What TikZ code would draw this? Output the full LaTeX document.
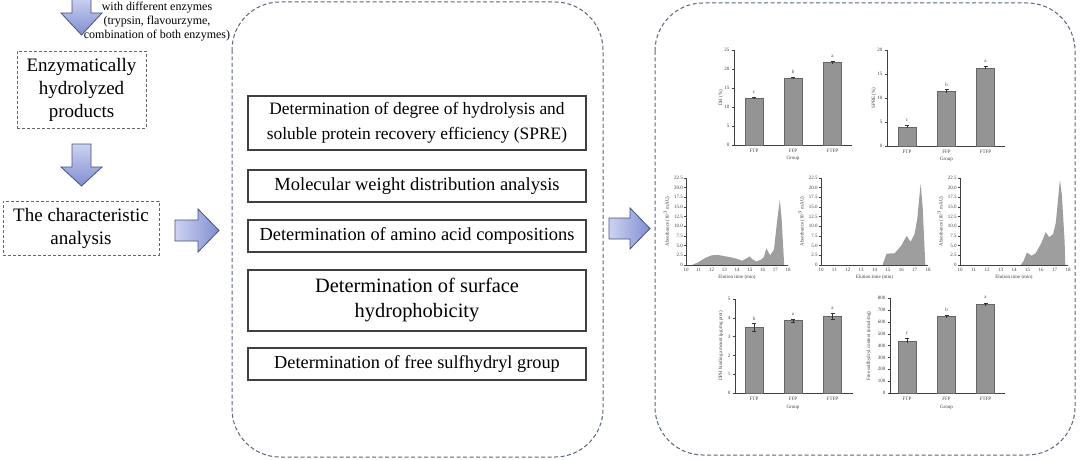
\documentclass[tikz,border=0pt]{standalone}
\usepackage{fontspec}
\setmainfont{Liberation Serif}
\definecolor{dashc}{RGB}{88,102,122}
\definecolor{arrA}{RGB}{205,211,242}
\definecolor{arrB}{RGB}{128,142,208}
\definecolor{arrline}{RGB}{72,82,122}
\begin{document}
\begin{tikzpicture}[x=1pt,y=-1pt,
  dbox/.style={draw=black!60, dash pattern=on 3pt off 2pt, line width=0.8pt, align=center, inner sep=0pt, font=\fontsize{19}{23}\selectfont},
  bigbox/.style={draw=dashc, dash pattern=on 4pt off 2.5pt, line width=1pt, rounded corners=48pt},
  mbox/.style={draw=black!75, line width=1.1pt, fill=white, minimum width=338pt, align=center, inner sep=0pt},
  downarrow/.style={draw=arrline, line width=0.8pt, top color=arrA, bottom color=arrB},
  rightarrow/.style={draw=arrline, line width=0.8pt, left color=arrA, right color=arrB},
  tiny/.style={font=\fontsize{5}{5.5}\selectfont, text=black!75, inner sep=0.5pt},
  barfill/.style={fill=black!42, draw=black!60, line width=0.4pt},
  prof/.style={fill=black!38},
  axis/.style={draw=black!75, line width=0.5pt},
  err/.style={draw=black!80, line width=0.4pt}]
\useasboundingbox (0,0) rectangle (1080,460);
\fill[white] (0,0) rectangle (1080,460);

% ---------- left column ----------
\node[align=center, font=\fontsize{12}{14}\selectfont, inner sep=0pt] (enz) at (157,22) {with different enzymes\\(trypsin, flavourzyme,\\combination of both enzymes)};
\draw[downarrow] (72,-3) -- (91,-3) -- (91,13) -- (102,13) -- (81.5,35) -- (61,13) -- (72,13) -- cycle;
\node[dbox, minimum width=129pt, minimum height=77pt] (prod) at (81.5,89.5) {Enzymatically\\hydrolyzed\\products};
\draw[downarrow] (72,144) -- (91,144) -- (91,167) -- (102,167) -- (81.5,186) -- (61,167) -- (72,167) -- cycle;
\node[dbox, minimum width=156pt, minimum height=54pt] (char) at (81,228) {The characteristic\\analysis};
\draw[rightarrow] (175,220) -- (198,220) -- (198,209) -- (219,230.5) -- (198,252) -- (198,241) -- (175,241) -- cycle;

% ---------- middle column ----------
\draw[bigbox] (232,2) rectangle (603,457);
\node[mbox, minimum height=54pt, font=\fontsize{17.4}{25}\selectfont] (m1) at (417,123) {Determination of degree of hydrolysis and\\soluble protein recovery efficiency (SPRE)};
\node[mbox, minimum height=32pt, font=\fontsize{18.5}{22}\selectfont] (m2) at (417,186) {Molecular weight distribution analysis};
\node[mbox, minimum height=32pt, font=\fontsize{18.4}{22}\selectfont] (m3) at (417,236) {Determination of amino acid compositions};
\node[mbox, minimum height=61pt, font=\fontsize{20.4}{25}\selectfont] (m4) at (417,300.5) {Determination of surface\\hydrophobicity};
\node[mbox, minimum height=32pt, font=\fontsize{18.3}{22}\selectfont] (m5) at (417,364) {Determination of free sulfhydryl group};
\draw[rightarrow] (609,218) -- (630,218) -- (630,208) -- (650,228.5) -- (630,249) -- (630,239) -- (609,239) -- cycle;

% ---------- right column ----------
\draw[bigbox] (655,3) rectangle (1075,455);

% Chart 1: DH
\draw[axis] (734,50) -- (734,145) -- (852,145);
\foreach \v [count=\i] in {0,5,10,15,20,25} {
  \draw[axis] (734,{145-3.8*\v}) -- (731.5,{145-3.8*\v});
  \node[tiny, anchor=east] (ay\i) at (730,{145-3.8*\v}) {\v};
}
\foreach \c/\v/\l [count=\i] in {754/12.4/c, 793/17.6/b, 832.5/21.7/a} {
  \draw[barfill] (\c-9,145) rectangle (\c+9,{145-3.8*\v});
  \draw[err] (\c,{145-3.8*(\v+0.3)}) -- (\c,{145-3.8*(\v-0.3)});
  \draw[err] (\c-2,{145-3.8*(\v+0.3)}) -- (\c+2,{145-3.8*(\v+0.3)});
  \node[tiny] (al\i) at (\c,{145-3.8*\v-6}) {\l};
}
\node[tiny] (ax1) at (754,151) {FTP};
\node[tiny] (ax2) at (793,151) {FFP};
\node[tiny] (ax3) at (832.5,151) {FTFP};
\node[tiny] (ag) at (793,158) {Group};
\node[tiny, rotate=90] (ayl) at (721,98) {DH (\%)};

% Chart 2: SPRE
\draw[axis] (887,50) -- (887,146) -- (1005,146);
\foreach \v [count=\i] in {0,5,10,15,20} {
  \draw[axis] (887,{146-4.8*\v}) -- (884.5,{146-4.8*\v});
  \node[tiny, anchor=east] (by\i) at (883,{146-4.8*\v}) {\v};
}
\foreach \c/\v/\l [count=\i] in {907/4.0/c, 946.5/11.4/b, 985.5/16.3/a} {
  \draw[barfill] (\c-9,146) rectangle (\c+9,{146-4.8*\v});
  \draw[err] (\c,{146-4.8*(\v+0.35)}) -- (\c,{146-4.8*(\v-0.35)});
  \draw[err] (\c-2,{146-4.8*(\v+0.35)}) -- (\c+2,{146-4.8*(\v+0.35)});
  \node[tiny] (bl\i) at (\c,{146-4.8*\v-6}) {\l};
}
\node[tiny] (bx1) at (907,152) {FTP};
\node[tiny] (bx2) at (946.5,152) {FFP};
\node[tiny] (bx3) at (985.5,152) {FTFP};
\node[tiny] (bg) at (946.5,159) {Group};
\node[tiny, rotate=90] (byl) at (874,98) {SPRE (\%)};

% Chart 3: elution FTP
\begin{scope}[shift={(558.5,265)}, x=12.75pt, y=3.87pt]
  \fill[prof] plot coordinates {(10.5,0) (11,0.8) (11.5,1.8) (12,2.5) (12.5,2.6) (13,2.3) (13.5,2.0) (14,1.6) (14.4,1.1) (14.8,1.8) (15,2.2) (15.2,1.5) (15.5,0.9) (15.9,1.4) (16.1,2.0) (16.3,4.3) (16.6,2.5) (16.9,4.0) (17.1,10) (17.35,16.8) (17.5,12) (17.7,0)} -- cycle;
  \draw[axis] (10,22.5) -- (10,0) -- (18,0);
  \foreach \v/\t [count=\i] in {0/0,2.5/2.5,5/5.0,7.5/7.5,10/10.0,12.5/12.5,15/15.0,17.5/17.5,20/20.0,22.5/22.5} {
    \draw[axis] (10,\v) -- (9.85,\v);
    \node[tiny, anchor=east] (cy\i) at (9.8,\v) {\t};
  }
  \foreach \t [count=\i] in {10,...,18} {
    \node[tiny] (cx\i) at (\t,-1.3) {\t};
  }
  \node[tiny] (cxl) at (14,-3.1) {Elution time (min)};
  \node[tiny, rotate=90] (cyl) at (8.5,11.25) {Absorbance (10$^3$ mAU)};
\end{scope}

% Chart 4: elution FFP
\begin{scope}[shift={(687.25,265)}, x=13.375pt, y=3.87pt]
  \fill[prof] plot coordinates {(14.6,0) (14.9,2.9) (15.2,3.0) (15.5,3.0) (16,5.0) (16.4,7.5) (16.7,6.0) (17,8.0) (17.2,12) (17.45,21) (17.6,15) (17.8,0)} -- cycle;
  \draw[draw=black!80, line width=0.8pt] (14,0) -- (14.6,0);
  \draw[axis] (10,22.5) -- (10,0) -- (18,0);
  \foreach \v/\t [count=\i] in {0/0,2.5/2.5,5/5.0,7.5/7.5,10/10.0,12.5/12.5,15/15.0,17.5/17.5,20/20.0,22.5/22.5} {
    \draw[axis] (10,\v) -- (9.85,\v);
    \node[tiny, anchor=east] (dy\i) at (9.8,\v) {\t};
  }
  \foreach \t [count=\i] in {10,...,18} {
    \node[tiny] (dx\i) at (\t,-1.3) {\t};
  }
  \node[tiny] (dxl) at (14,-3.1) {Elution time (min)};
  \node[tiny, rotate=90] (dyl) at (8.55,11.25) {Absorbance (10$^3$ mAU)};
\end{scope}

% Chart 5: elution FTFP
\begin{scope}[shift={(825,265)}, x=13.5pt, y=3.87pt]
  \fill[prof] plot coordinates {(14.5,0) (14.7,1.0) (14.95,3.2) (15.3,2.4) (15.6,3.0) (16,5.5) (16.35,8.5) (16.6,7.2) (16.9,8.0) (17.1,11) (17.4,22) (17.55,18) (17.75,6) (17.8,0)} -- cycle;
  \draw[axis] (10,22.5) -- (10,0) -- (18,0);
  \foreach \v/\t [count=\i] in {0/0,2.5/2.5,5/5.0,7.5/7.5,10/10.0,12.5/12.5,15/15.0,17.5/17.5,20/20.0,22.5/22.5} {
    \draw[axis] (10,\v) -- (9.85,\v);
    \node[tiny, anchor=east] (ey\i) at (9.8,\v) {\t};
  }
  \foreach \t [count=\i] in {10,...,18} {
    \node[tiny] (ex\i) at (\t,-1.3) {\t};
  }
  \node[tiny] (exl) at (14,-3.1) {Elution time (min)};
  \node[tiny, rotate=90] (eyl) at (8.55,11.25) {Absorbance (10$^3$ mAU)};
\end{scope}

% Chart 6: DPH binding
\draw[axis] (735,299) -- (735,393) -- (853,393);
\foreach \v [count=\i] in {0,1,2,3,4,5} {
  \draw[axis] (735,{393-18.8*\v}) -- (732.5,{393-18.8*\v});
  \node[tiny, anchor=east] (fy\i) at (731,{393-18.8*\v}) {\v};
}
\foreach \c/\v/\e/\l [count=\i] in {754/3.5/0.2/b, 793/3.85/0.08/a, 832.5/4.1/0.15/a} {
  \draw[barfill] (\c-9,393) rectangle (\c+9,{393-18.8*\v});
  \draw[err] (\c,{393-18.8*(\v+\e)}) -- (\c,{393-18.8*(\v-\e)});
  \draw[err] (\c-2,{393-18.8*(\v+\e)}) -- (\c+2,{393-18.8*(\v+\e)});
  \draw[err] (\c-2,{393-18.8*(\v-\e)}) -- (\c+2,{393-18.8*(\v-\e)});
  \node[tiny] (fl\i) at (\c,{393-18.8*(\v+\e)-5}) {\l};
}
\node[tiny] (fx1) at (754,399) {FTP};
\node[tiny] (fx2) at (793,399) {FFP};
\node[tiny] (fx3) at (832.5,399) {FTFP};
\node[tiny] (fg) at (793,407) {Group};
\node[tiny, rotate=90] (fyl) at (721,346) {DPH binding amount (μg/mg prot)};

% Chart 7: free sulfhydryl
\draw[axis] (890,298) -- (890,393) -- (1005,393);
\foreach \v [count=\i] in {0,100,...,800} {
  \draw[axis] (890,{393-0.1185*\v}) -- (887.5,{393-0.1185*\v});
  \node[tiny, anchor=east] (gy\i) at (886,{393-0.1185*\v}) {\v};
}
\foreach \c/\v/\e/\l [count=\i] in {907/440/20/c, 946.5/645/15/b, 985.5/750/12/a} {
  \draw[barfill] (\c-9,393) rectangle (\c+9,{393-0.1185*\v});
  \draw[err] (\c,{393-0.1185*(\v+\e)}) -- (\c,{393-0.1185*(\v-\e)});
  \draw[err] (\c-2,{393-0.1185*(\v+\e)}) -- (\c+2,{393-0.1185*(\v+\e)});
  \node[tiny] (gl\i) at (\c,{393-0.1185*(\v+\e)-5}) {\l};
}
\node[tiny] (gx1) at (907,399) {FTP};
\node[tiny] (gx2) at (946.5,399) {FFP};
\node[tiny] (gx3) at (985.5,399) {FTFP};
\node[tiny] (gg) at (946.5,407) {Group};
\node[tiny, rotate=90] (gyl) at (869,346) {Free sulfhydryl content (nmol/mg)};
\end{tikzpicture}
\end{document}
